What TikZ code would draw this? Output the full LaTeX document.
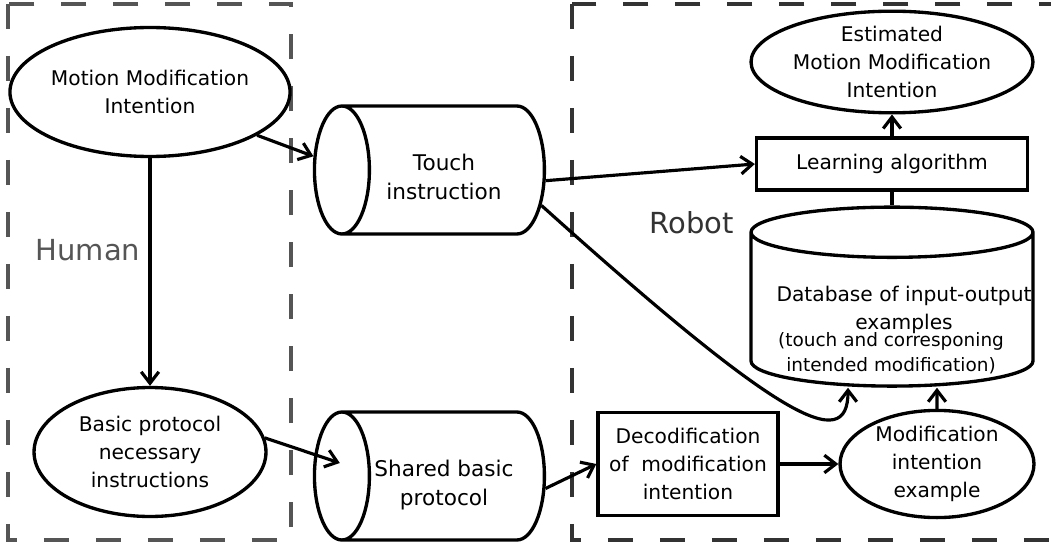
\documentclass[tikz,border=0pt]{standalone}
\usepackage{fontspec}
\setmainfont{DejaVu Sans}
\usetikzlibrary{shapes.geometric, arrows.meta, calc}
\definecolor{humangray}{HTML}{555555}
\definecolor{robotgray}{HTML}{333333}
\tikzset{%
  state/.style    = {draw, line width = 1.9pt, ellipse, inner sep = 0pt,
    align = center}, % ellipse
  block/.style    = {draw, line width = 1.9pt, rectangle, inner sep = 0pt,
    align = center},
  channel/.style  = {draw, line width = 1.9pt, cylinder, shape border rotate = 180,
    aspect = 0.92, inner sep = 0pt, font = \fontsize{12.3}{17}\selectfont,
    minimum width = 2.56cm, minimum height = 4.6cm}, % lying cylinder
  database/.style = {draw, line width = 1.9pt, cylinder, shape border rotate = 90,
    aspect = 0.18, inner sep = 0pt, align = center,
    minimum width = 5.64cm, minimum height = 3.58cm}, % standing cylinder
  region/.style   = {line width = 2.2pt, dash pattern = on 0.5cm off 0.54cm},
  link/.style     = {-{Straight Barb[length = 6.5pt, width = 10pt]}, line width = 1.8pt}
}
\newcommand{\smalltext}{\fontsize{10.5}{14}\selectfont}
\newcommand{\cyltext}[1]{\raisebox{-0.18cm}[\height][\depth]{\begin{tabular}{@{}c@{}}#1\end{tabular}}}

\begin{document}
\begin{tikzpicture}[x = 0.02cm, y = -0.02cm, font = \fontsize{11.5}{16}\selectfont]
\useasboundingbox (0,0) rectangle (1051,544);
%regions
\draw[region, humangray] (8,4) rectangle (291,540);
\draw[region, robotgray] (572,4) rectangle (1062,540);
%blocks
\draw
	(150,92) node [state, minimum width = 4.64cm, minimum height = 2.58cm] (mmi) {Motion Modification\\Intention}
	(150,452) node [state, minimum width = 4.64cm, minimum height = 2.58cm] (basic) {Basic protocol\\necessary\\instructions}
	(444,170) node [channel] (touch) {\cyltext{Touch\\instruction}}
	(444,476) node [channel] (shared) {\cyltext{Shared basic\\protocol}}
	(688,464) node [block, minimum width = 3.6cm, minimum height = 2.06cm] (decod) {Decodification\\of~ modification\\intention}
	(937,464) node [state, minimum width = 3.88cm, minimum height = 2.04cm] (mie) {Modification\\intention\\example}
	(892,310) node [database] (db) {\hspace*{0.48cm}Database of input-output\\\hspace*{0.48cm}examples}
	(891,353) node [align = center, font = \smalltext] (dbnote) {(touch and corresponing\\intended modification)}
	(892,164) node [block, minimum width = 5.42cm, minimum height = 1.04cm] (learn) {Learning algorithm}
	(892,62) node [state, minimum width = 5.64cm, minimum height = 1.84cm] (emmi) {Estimated\\Motion Modification\\Intention};
%lines
\draw[link] (mmi.-22) -- (touch.174);
\draw[link] (mmi.south) -- (basic.north);
\draw[link] (basic.7) -- ($(shared.west)+(27,-13)$);
\draw[link] (shared.-7) -- (decod.west);
\draw[link] (decod.east) -- (mie.west);
\draw[link] (touch.-6) -- (learn.west);
\draw[link] (learn.north) -- (emmi.south);
\draw[line width = 1.8pt] (learn.south) -- (db.north);
\draw[link] (mie.north) -- ([xshift = 0.9cm]db.south);
\draw[link] (touch.-20) .. controls (780,420) and (848,455) .. ([xshift = -0.88cm]db.south);
%labels
\node[text = humangray, font = \fontsize{16.5}{20}\selectfont] (human) at (88,250) {Human};
\node[text = robotgray, font = \fontsize{16.5}{20}\selectfont] (robot) at (692,223) {Robot};
\end{tikzpicture}
\end{document}
